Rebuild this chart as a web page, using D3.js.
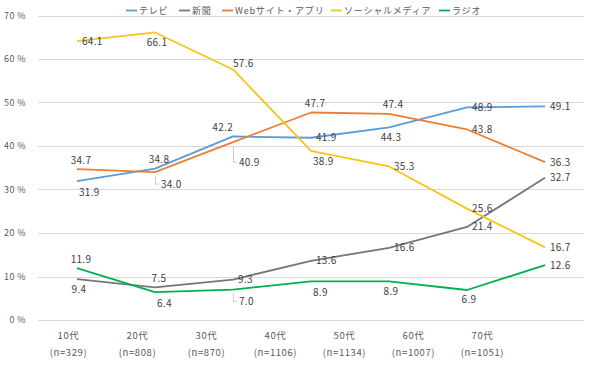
<!DOCTYPE html>
<html><head><meta charset="utf-8">
<script src="https://cdn.jsdelivr.net/npm/d3@7"></script>
<style>
html,body{margin:0;padding:0;background:#fff;}
svg{display:block;font-family:"Noto Sans CJK JP","Noto Sans",sans-serif;}
</style></head>
<body><svg id="c" width="590" height="384"></svg>
<script>
const categories = ["10代","20代","30代","40代","50代","60代","70代"];
const sampleSizes = ["(n=329)","(n=808)","(n=870)","(n=1106)","(n=1134)","(n=1007)","(n=1051)"];
const seriesNames = ["テレビ","新聞","Webサイト・アプリ","ソーシャルメディア","ラジオ"];
const tv     = [31.9, 34.8, 42.2, 41.9, 44.3, 48.9, 49.1];
const paper  = [9.4, 7.5, 9.3, 13.6, 16.6, 21.4, 32.7];
const web    = [34.7, 34.0, 40.9, 47.7, 47.4, 43.8, 36.3];
const social = [64.1, 66.1, 57.6, 38.9, 35.3, 25.6, 16.7];
const radio  = [11.9, 6.4, 7.0, 8.9, 8.9, 6.9, 12.6];
const yTicks = [0,10,20,30,40,50,60,70];
const colors = ["#5B9BD5","#767676","#ED7D31","#F5C518","#00B050"];
// label placement codes per point
const placeTv     = ["rb","a","la","r","b","r","r"];
const placePaper  = ["b","a","r","r","r","r","r"];
const placeWeb    = ["a","ld","ldl","a","a","r","r"];
const placeSocial = ["r","b","ra","rb","r","r","r"];
const placeRadio  = ["a","rb","ld","rb","b","b","r"];

const series = [tv, paper, web, social, radio];
const places = [placeTv, placePaper, placeWeb, placeSocial, placeRadio];

const svg = d3.select("#c");
const x = d3.scalePoint().domain(categories).range([38,584]).padding(0.5);
const xl = d3.scalePoint().domain(categories).range([34,517]).padding(0.5);
const y = d3.scaleLinear().domain([0,70]).range([320,15.5]);

// gridlines
svg.append("g").selectAll("line").data(yTicks).join("line")
  .attr("x1",38).attr("x2",584)
  .attr("y1",d=>Math.round(y(d))+0.5).attr("y2",d=>Math.round(y(d))+0.5)
  .attr("stroke","#D9D9D9").attr("stroke-width",1);

// y axis labels
svg.append("g").selectAll("text").data(yTicks).join("text")
  .attr("x",26).attr("y",d=>y(d)).attr("dy","0.35em")
  .attr("text-anchor","end").attr("font-size",9).attr("fill","#595959")
  .attr("letter-spacing","0.4")
  .text(d=>d+" %");

// x labels
const xg = svg.append("g");
xg.selectAll("text.cat").data(categories).join("text").attr("class","cat")
  .attr("x",d=>xl(d)).attr("y",339).attr("text-anchor","middle")
  .attr("font-size",9.5).attr("fill","#595959").attr("letter-spacing","0.6").text(d=>d);
xg.selectAll("text.n").data(sampleSizes).join("text").attr("class","n")
  .attr("x",(d,i)=>xl(categories[i])).attr("y",356).attr("text-anchor","middle")
  .attr("font-size",9.5).attr("fill","#595959").attr("letter-spacing","0.6").text(d=>d);

// lines
const line = d3.line().x((d,i)=>x(categories[i])).y(d=>y(d));
series.forEach((s,k)=>{
  svg.append("path").datum(s).attr("d",line).attr("fill","none")
    .attr("stroke",colors[k]).attr("stroke-width",1.8).attr("stroke-linejoin","round");
});

// data labels
const lg = svg.append("g").attr("font-size",10).attr("fill","#404040");
series.forEach((s,k)=>{
  s.forEach((v,i)=>{
    const px = x(categories[i]), py = y(v), p = places[k][i];
    let tx=px, ty=py, anchor="start";
    if(p==="r"){tx=px+5; ty=py;}
    else if(p==="a"){tx=px+4; ty=py-9; anchor="middle";}
    else if(p==="b"){tx=px+2; ty=py+10; anchor="middle";}
    else if(p==="rb"){tx=px+2; ty=py+11;}
    else if(p==="ra"){tx=px; ty=py-6;}
    else if(p==="la"){tx=px; ty=py-9; anchor="end";}
    else if(p==="ld"||p==="ldl"){
      const d = p==="ld"?12:20;
      tx=px+6; ty=py+d;
      lg.append("path").attr("d",`M${px+0.5},${py+4}V${py+d}H${px+4}`)
        .attr("fill","none").attr("stroke","#BFBFBF").attr("stroke-width",0.8);
    }
    lg.append("text").attr("x",tx).attr("y",ty).attr("dy","0.35em")
      .attr("text-anchor",anchor).attr("letter-spacing","0.3").text(v.toFixed(1));
  });
});

// legend
const legX = [126,179,222,331,439];
const leg = svg.append("g");
seriesNames.forEach((n,k)=>{
  leg.append("line").attr("x1",legX[k]).attr("x2",legX[k]+11)
    .attr("y1",10.5).attr("y2",10.5).attr("stroke",colors[k]).attr("stroke-width",1.8);
  leg.append("text").attr("x",legX[k]+13).attr("y",10.5).attr("dy","0.35em")
    .attr("font-size",9).attr("fill","#595959").attr("letter-spacing","0.8").text(n);
});
</script></body></html>
